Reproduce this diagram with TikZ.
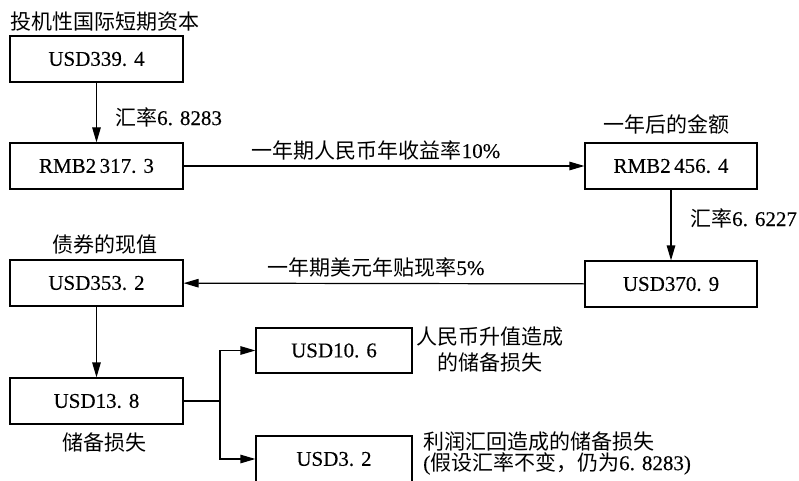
\documentclass[tikz,border=0pt]{standalone}
\usepackage{fontspec}
\setmainfont{Liberation Serif}[FakeBold=0.25]
\newfontfamily\cjk{Noto Sans CJK SC}
\usetikzlibrary{arrows.meta}
\begin{document}
\begin{tikzpicture}[x=1pt,y=-1pt,
  box/.style={draw, line width=1.2pt, minimum height=46pt, minimum width=173pt, inner sep=0pt, font=\fontsize{21}{24}\selectfont},
  sbox/.style={box, minimum width=156pt},
  lbl/.style={font=\cjk\fontsize{21}{26}\selectfont, inner sep=0pt},
  arr/.style={line width=1.2pt, -{Triangle[length=15pt,width=8.5pt]}},
  ln/.style={line width=1.2pt}]
\fill[white] (0,0) rectangle (799,481);
\useasboundingbox (0,0) rectangle (799,481);
% boxes
\node[box] (b1) at (96.5,59) {USD339.\,\,4};
\node[box] (b2) at (96.5,166) {RMB2\,317.\,\,3};
\node[box, minimum width=172pt] (b3) at (671,166) {RMB2\,456.\,\,4};
\node[box, minimum width=172pt] (b4) at (671,284) {USD370.\,\,9};
\node[box] (b5) at (96.5,283) {USD353.\,\,2};
\node[box] (b6) at (96.5,401) {USD13.\,\,8};
\node[sbox, minimum height=45pt] (b7) at (334,350.5) {USD10.\,\,6};
\node[sbox] (b8) at (334,459) {USD3.\,\,2};
% labels
\node[lbl] (t1) at (105,22) {投机性国际短期资本};
\node[lbl, anchor=west] (l1) at (115,117) {汇率{\rmfamily\fontsize{21}{24}\selectfont 6.\,\,8283}};
\node[lbl] (l2) at (376,150) {一年期人民币年收益率{\rmfamily\fontsize{21}{24}\selectfont 10\%}};
\node[lbl] (t3) at (666,124) {一年后的金额};
\node[lbl, anchor=west] (l3) at (690,218) {汇率{\rmfamily\fontsize{21}{24}\selectfont 6.\,\,6227}};
\node[lbl] (l4) at (376,267) {一年期美元年贴现率{\rmfamily\fontsize{21}{24}\selectfont 5\%}};
\node[lbl] (t5) at (105,245) {债券的现值};
\node[lbl] (t6) at (104,443) {储备损失};
\node[lbl, align=center, font=\cjk\fontsize{21}{26}\selectfont] (t7) at (490,350) {人民币升值造成\\的储备损失};
\node[lbl, align=left, anchor=west, font=\cjk\fontsize{21}{21}\selectfont] (t8) at (423,453) {利润汇回造成的储备损失\\{\rmfamily\fontsize{21}{21}\selectfont (}假设汇率不变，仍为{\rmfamily\fontsize{21}{21}\selectfont 6.\,\,8283)}};
% connectors
\draw[arr] (b1) -- (b2);
\draw[arr] (b2) -- (b3);
\draw[arr] (b3) -- (b4);
\draw[arr] (b4) -- (b5);
\draw[arr] (b5) -- (b6);
\coordinate (j) at (220,401);
\draw[ln] (b6.east) -- (j);
\draw[arr] (j) |- (b7.west);
\draw[arr] (j) |- (b8.west);
\end{tikzpicture}
\end{document}
